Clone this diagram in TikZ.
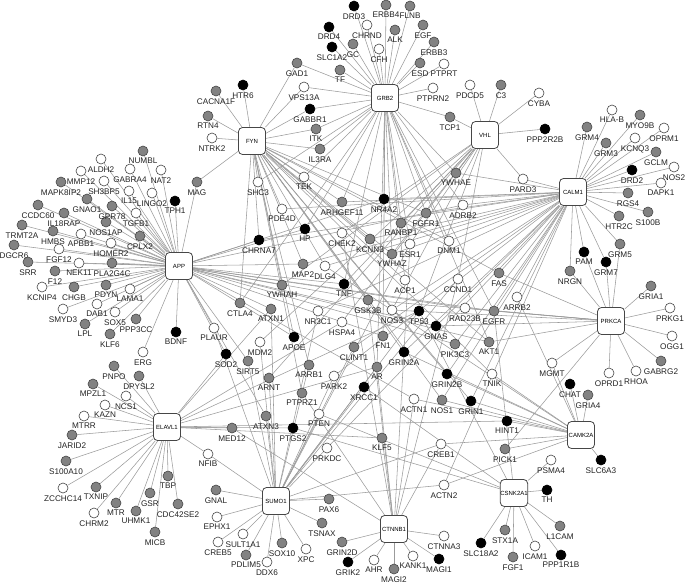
\documentclass[tikz,border=0pt]{standalone}
\usepackage{fontspec}
\setmainfont{Liberation Sans}
\definecolor{rim}{RGB}{70,70,70}
\definecolor{midgray}{RGB}{130,130,130}
\definecolor{edgegray}{RGB}{155,155,155}
\definecolor{txt}{RGB}{35,35,35}
\usetikzlibrary{backgrounds}
\tikzset{
  gene/.style={circle, draw=rim, line width=0.6pt, minimum size=10pt, inner sep=0pt},
  gn/.style={gene, fill=midgray},
  bn/.style={gene, fill=black, draw=black},
  wn/.style={gene, fill=white},
  hub/.style={draw=rim, fill=white, rounded corners=4pt, minimum size=27pt,
              inner sep=0pt, line width=0.8pt, font=\fontsize{6}{7}\selectfont},
  link/.style={draw=edgegray, line width=0.55pt},
  every label/.style={font=\fontsize{8.2}{9}\selectfont, text=txt, inner sep=0pt}
}

\begin{document}
\begin{tikzpicture}[x=1pt, y=-1pt, label distance=1.8pt]
  \useasboundingbox (0,0) rectangle (685,583);
  % Hubs
  \node[hub] (APP) at (179,266) {APP};
  \node[hub] (FYN) at (252,141) {FYN};
  \node[hub] (GRB2) at (385,98) {GRB2};
  \node[hub] (VHL) at (485,135) {VHL};
  \node[hub] (CALM1) at (573,192) {CALM1};
  \node[hub] (PRKCA) at (611,321) {PRKCA};
  \node[hub] (CAMK2A) at (581,435) {CAMK2A};
  \node[hub] (CSNK2A1) at (514,493) {CSNK2A1};
  \node[hub] (CTNNB1) at (394,529) {CTNNB1};
  \node[hub] (SUMO1) at (276,501) {SUMO1};
  \node[hub] (ELAVL1) at (167,427) {ELAVL1};

  % Groupe APP
  \node[gn, label=below:CCDC60] (CCDC60) at (38,205) {};
  \node[gn, label=below:TRMT2A] (TRMT2A) at (22,225) {};
  \node[gn, label=below:HMBS] (HMBS) at (53,231) {};
  \node[gn, label=below:DGCR6] (DGCR6) at (14,245) {};
  \node[gn, label=below:IL18RAP] (IL18RAP) at (64,213) {};
  \node[wn, label=below:FGF12] (FGF12) at (59,249) {};
  \node[gn, label=below:SRR] (SRR) at (28,262) {};
  \node[wn, label=below:NEK11] (NEK11) at (79,263) {};
  \node[gn, label=below:PLA2G4C] (PLA2G4C) at (112,263) {};
  \node[gn, label=below:F12] (F12) at (55,271) {};
  \node[wn, label=below:KCNIP4] (KCNIP4) at (42,287) {};
  \node[gn, label=below:CHGB] (CHGB) at (74,287) {};
  \node[gn, label=below:PDYN] (PDYN) at (106,285) {};
  \node[wn, label=below:LAMA1] (LAMA1) at (130,289) {};
  \node[wn, label=below:SMYD3] (SMYD3) at (63,309) {};
  \node[wn, label=below:DAB1] (DAB1) at (97,304) {};
  \node[wn, label=below:SOX5] (SOX5) at (115,312) {};
  \node[gn, label=below:PPP3CC] (PPP3CC) at (136,319) {};
  \node[gn, label=below:LPL] (LPL) at (85,324) {};
  \node[gn, label=below:KLF6] (KLF6) at (110,334) {};
  \node[bn, label=below:BDNF] (BDNF) at (176,332) {};
  \node[wn, label=below:ERG] (ERG) at (143,352) {};
  \node[wn, label=below:APBB1] (APBB1) at (81,234) {};
  \node[wn, label=below:HOMER2] (HOMER2) at (111,243) {};
  \node[gn, label=below:NOS1AP] (NOS1AP) at (106,222) {};
  \node[gn, label=below:CPLX2] (CPLX2) at (140,236) {};
  \node[gn, label=below:GNAO1] (GNAO1) at (87,199) {};
  \node[gn, label=below:GPR78] (GPR78) at (112,206) {};
  \node[wn, label=below:TGFB1] (TGFB1) at (136,213) {};
  \node[wn, label=below:IL15] (IL15) at (129,191) {};
  \node[wn, label=below:LINGO2] (LINGO2) at (152,193) {};
  \node[bn, label=below:TPH1] (TPH1) at (175,201) {};
  \node[gn, label=below:MAPK8IP2] (MAPK8IP2) at (61,182) {};
  \node[wn, label=below:MMP12] (MMP12) at (81,171) {};
  \node[wn, label=below:SH3BP5] (SH3BP5) at (104,181) {};
  \node[wn, label=below:ALDH2] (ALDH2) at (101,159) {};
  \node[wn, label=below:GABRA4] (GABRA4) at (130,169) {};
  \node[wn, label=below:NAT2] (NAT2) at (161,170) {};
  \node[gn, label=below:NUMBL] (NUMBL) at (143,151) {};
  \node[gn, label=below:MAG] (MAG) at (197,182) {};
  \node[wn, label=below:PLAUR] (PLAUR) at (214,328) {};

  % Groupe FYN
  \node[gn, label=below:CACNA1F] (CACNA1F) at (216,91) {};
  \node[gn, label=below:RTN4] (RTN4) at (208,116) {};
  \node[wn, label=below:NTRK2] (NTRK2) at (212,138) {};
  \node[bn, label=below:HTR6] (HTR6) at (243,85) {};
  \node[gn, label=below:GAD1] (GAD1) at (297,63) {};
  \node[wn, label=below:VPS13A] (VPS13A) at (304,87) {};
  \node[bn, label=below:GABBR1] (GABBR1) at (310,109) {};
  \node[gn, label=below:ITK] (ITK) at (316,129) {};
  \node[gn, label=below:IL3RA] (IL3RA) at (320,149) {};
  \node[wn, label=below:SHC3] (SHC3) at (258,182) {};
  \node[wn, label=below:TEK] (TEK) at (304,177) {};

  % Groupe GRB2
  \node[bn, label=below:DRD3] (DRD3) at (354,6) {};
  \node[gn, label=below:ERBB4] (ERBB4) at (386,5) {};
  \node[gn, label=below:FLNB] (FLNB) at (410,6) {};
  \node[bn, label=below:DRD4] (DRD4) at (329,27) {};
  \node[wn, label=below:CHRND] (CHRND) at (367,25) {};
  \node[gn, label=below:ALK] (ALK) at (395,30) {};
  \node[gn, label=below:EGF] (EGF) at (423,25) {};
  \node[bn, label=below:SLC1A2] (SLC1A2) at (332,47) {};
  \node[gn, label=below:GC] (GC) at (353,44) {};
  \node[wn, label=below:CFH] (CFH) at (379,49) {};
  \node[gn, label=below:ERBB3] (ERBB3) at (434,42) {};
  \node[gn, label=below:TF] (TF) at (340,70) {};
  \node[gn, label=below:ESD] (ESD) at (420,63) {};
  \node[wn, label=below:PTPRT] (PTPRT) at (444,64) {};
  \node[wn, label=below:PTPRN2] (PTPRN2) at (433,88) {};
  \node[gn, label=below:TCP1] (TCP1) at (450,117) {};

  % Groupe VHL
  \node[wn, label=below:PDCD5] (PDCD5) at (470,85) {};
  \node[gn, label=below:C3] (C3) at (501,85) {};
  \node[wn, label=below:CYBA] (CYBA) at (539,93) {};
  \node[bn, label=below:PPP2R2B] (PPP2R2B) at (545,129) {};
  \node[wn, label=below:PARD3] (PARD3) at (523,179) {};
  \node[gn, label=below:YWHAE] (YWHAE) at (456,173) {};

  % Groupe CALM1
  \node[wn, label=below:HLA-B] (HLAB) at (612,110) {};
  \node[gn, label=below:MYO9B] (MYO9B) at (640,115) {};
  \node[gn, label=below:GRM4] (GRM4) at (587,127) {};
  \node[wn, label=below:OPRM1] (OPRM1) at (664,128) {};
  \node[wn, label=below:KCNQ3] (KCNQ3) at (635,138) {};
  \node[gn, label=below:GRM3] (GRM3) at (606,143) {};
  \node[gn, label=below:GCLM] (GCLM) at (656,152) {};
  \node[bn, label=below:DRD2] (DRD2) at (632,170) {};
  \node[wn, label=below:NOS2] (NOS2) at (674,167) {};
  \node[wn, label=below:DAPK1] (DAPK1) at (661,183) {};
  \node[gn, label=below:RGS4] (RGS4) at (628,193) {};
  \node[gn, label=below:HTR2C] (HTR2C) at (619,216) {};
  \node[gn, label=below:S100B] (S100B) at (648,212) {};
  \node[gn, label=below:GRM5] (GRM5) at (620,244) {};
  \node[bn, label=below:PAM] (PAM) at (584,252) {};
  \node[bn, label=below:GRM7] (GRM7) at (606,262) {};
  \node[gn, label=below:NRGN] (NRGN) at (570,271) {};
  \node[wn, label=below:ADRB2] (ADRB2) at (463,205) {};

  % Groupe PRKCA
  \node[gn, label=below:GRIA1] (GRIA1) at (651,286) {};
  \node[wn, label=below:PRKG1] (PRKG1) at (670,308) {};
  \node[wn, label=below:OGG1] (OGG1) at (672,336) {};
  \node[gn, label=below:GABRG2] (GABRG2) at (661,361) {};
  \node[wn, label=below:RHOA] (RHOA) at (636,371) {};
  \node[wn, label=below:OPRD1] (OPRD1) at (609,373) {};
  \node[wn, label=below:MGMT] (MGMT) at (552,363) {};

  % Groupe CAMK2A
  \node[bn, label=below:CHAT] (CHAT) at (570,384) {};
  \node[gn, label=below:GRIA4] (GRIA4) at (588,395) {};
  \node[bn, label=below:SLC6A3] (SLC6A3) at (601,460) {};

  % Groupe CSNK2A1
  \node[wn, label=below:PSMA4] (PSMA4) at (551,460) {};
  \node[bn, label=below:TH] (TH) at (547,490) {};
  \node[gn, label=below:L1CAM] (L1CAM) at (560,526) {};
  \node[gn, label=below:STX1A] (STX1A) at (505,530) {};
  \node[bn, label=below:SLC18A2] (SLC18A2) at (481,543) {};
  \node[wn, label=below:ICAM1] (ICAM1) at (535,546) {};
  \node[bn, label=below:PPP1R1B] (PPP1R1B) at (561,555) {};
  \node[gn, label=below:FGF1] (FGF1) at (513,557) {};

  % Groupe CTNNB1
  \node[gn, label=below:GRIN2D] (GRIN2D) at (342,542) {};
  \node[bn, label=below:GRIK2] (GRIK2) at (348,562) {};
  \node[wn, label=below:AHR] (AHR) at (374,560) {};
  \node[gn, label=below:MAGI2] (MAGI2) at (394,569) {};
  \node[wn, label=below:KANK1] (KANK1) at (413,556) {};
  \node[bn, label=below:MAGI1] (MAGI1) at (439,559) {};
  \node[wn, label=below:CTNNA3] (CTNNA3) at (444,536) {};

  % Groupe SUMO1
  \node[gn, label=below:PAX6] (PAX6) at (329,499) {};
  \node[gn, label=below:TSNAX] (TSNAX) at (322,523) {};
  \node[wn, label=below:SULT1A1] (SULT1A1) at (243,534) {};
  \node[gn, label=below:SOX10] (SOX10) at (282,543) {};
  \node[wn, label=below:XPC] (XPC) at (306,549) {};
  \node[gn, label=below:PDLIM5] (PDLIM5) at (246,555) {};
  \node[wn, label=below:DDX6] (DDX6) at (267,562) {};
  \node[gn, label=below:GNAL] (GNAL) at (216,490) {};
  \node[wn, label=below:EPHX1] (EPHX1) at (217,517) {};
  \node[wn, label=below:CREB5] (CREB5) at (218,542) {};
  \node[wn, label=below:NFIB] (NFIB) at (208,454) {};

  % Groupe ELAVL1
  \node[gn, label=below:MPZL1] (MPZL1) at (93,384) {};
  \node[gn, label=below:DPYSL2] (DPYSL2) at (139,376) {};
  \node[gn, label=below:PNPO] (PNPO) at (114,366) {};
  \node[wn, label=below:NCS1] (NCS1) at (126,396) {};
  \node[wn, label=below:KAZN] (KAZN) at (105,405) {};
  \node[wn, label=below:MTRR] (MTRR) at (84,416) {};
  \node[gn, label=below:JARID2] (JARID2) at (72,435) {};
  \node[gn, label=below:S100A10] (S100A10) at (66,461) {};
  \node[wn, label=below:ZCCHC14] (ZCCHC14) at (63,488) {};
  \node[gn, label=below:TXNIP] (TXNIP) at (96,487) {};
  \node[wn, label=below:CHRM2] (CHRM2) at (94,513) {};
  \node[gn, label=below:MTR] (MTR) at (116,503) {};
  \node[gn, label=below:UHMK1] (UHMK1) at (136,511) {};
  \node[gn, label=below:GSR] (GSR) at (150,493) {};
  \node[gn, label=below:TBP] (TBP) at (168,476) {};
  \node[gn, label=below:CDC42SE2] (CDC42SE2) at (178,504) {};
  \node[gn, label=below:MICB] (MICB) at (155,532) {};

  % Centre
  \node[wn, label=below:PDE4D] (PDE4D) at (282,209) {};
  \node[gn, label=below:ARHGEF11] (ARHGEF11) at (342,202) {};
  \node[bn, label=below:NR4A2] (NR4A2) at (384,199) {};
  \node[gn, label=below:FGFR1] (FGFR1) at (426,213) {};
  \node[gn, label=below:RANBP1] (RANBP1) at (401,223) {};
  \node[bn, label=below:HP] (HP) at (305,229) {};
  \node[wn, label=below:CHEK2] (CHEK2) at (342,233) {};
  \node[bn, label=below:CHRNA7] (CHRNA7) at (259,240) {};
  \node[gn, label=below:KCNN3] (KCNN3) at (370,239) {};
  \node[wn, label=below:ESR1] (ESR1) at (410,244) {};
  \node[wn, label=below:DNM1] (DNM1) at (449,241) {};
  \node[gn, label=below:YWHAZ] (YWHAZ) at (392,254) {};
  \node[gn, label=below:MAP2] (MAP2) at (303,264) {};
  \node[wn, label=below:DLG4] (DLG4) at (325,266) {};
  \node[wn, label=below:ACP1] (ACP1) at (405,280) {};
  \node[wn, label=below:CCND1] (CCND1) at (458,279) {};
  \node[bn, label=below:TNF] (TNF) at (344,284) {};
  \node[gn, label=below:YWHAH] (YWHAH) at (282,285) {};
  \node[gn, label=below:GSK3B] (GSK3B) at (368,300) {};
  \node[gn, label=below:CTLA4] (CTLA4) at (240,303) {};
  \node[gn, label=below:ATXN1] (ATXN1) at (271,309) {};
  \node[wn, label=below:NR3C1] (NR3C1) at (318,311) {};
  \node[wn, label=below:NOS3] (NOS3) at (392,310) {};
  \node[bn, label=below:TP53] (TP53) at (419,311) {};
  \node[wn, label=below:HSPA4] (HSPA4) at (342,322) {};
  \node[bn, label=below:GNAS] (GNAS) at (436,326) {};
  \node[gn, label=below:FN1] (FN1) at (383,336) {};
  \node[bn, label=below:APOE] (APOE) at (294,337) {};
  \node[wn, label=below:MDM2] (MDM2) at (260,342) {};
  \node[gn, label=below:CLINT1] (CLINT1) at (354,347) {};
  \node[bn, label=below:SOD2] (SOD2) at (226,354) {};
  \node[gn, label=below:SIRT5] (SIRT5) at (248,361) {};
  \node[bn, label=below:GRIN2A] (GRIN2A) at (404,352) {};
  \node[gn, label=below:AR] (AR) at (377,367) {};
  \node[gn, label=below:ARRB1] (ARRB1) at (309,365) {};
  \node[wn, label=below:PARK2] (PARK2) at (334,376) {};
  \node[bn, label=below:GRIN2B] (GRIN2B) at (447,374) {};
  \node[gn, label=below:ARNT] (ARNT) at (269,378) {};
  \node[bn, label=below:XRCC1] (XRCC1) at (364,387) {};
  \node[gn, label=below:PTPRZ1] (PTPRZ1) at (302,393) {};
  \node[gn, label=below:ATXN3] (ATXN3) at (266,416) {};
  \node[wn, label=below:PTEN] (PTEN) at (319,414) {};
  \node[bn, label=below:PTGS2] (PTGS2) at (293,428) {};
  \node[gn, label=below:MED12] (MED12) at (232,428) {};
  \node[gn, label=below:KLF5] (KLF5) at (382,438) {};
  \node[wn, label=below:PRKDC] (PRKDC) at (327,448) {};
  \node[wn, label=below:ACTN1] (ACTN1) at (414,399) {};
  \node[gn, label=below:NOS1] (NOS1) at (442,400) {};
  \node[bn, label=below:GRIN1] (GRIN1) at (471,401) {};
  \node[wn, label=below:CREB1] (CREB1) at (441,444) {};
  \node[wn, label=below:ACTN2] (ACTN2) at (444,485) {};
  \node[bn, label=below:HINT1] (HINT1) at (507,421) {};
  \node[gn, label=below:PICK1] (PICK1) at (505,449) {};
  \node[wn, label=below:TNIK] (TNIK) at (492,374) {};
  \node[gn, label=below:PIK3C3] (PIK3C3) at (455,344) {};
  \node[gn, label=below:AKT1] (AKT1) at (489,342) {};
  \node[wn, label=below:RAD23B] (RAD23B) at (465,308) {};
  \node[gn, label=below:EGFR] (EGFR) at (494,311) {};
  \node[gn, label=below:FAS] (FAS) at (499,273) {};
  \node[wn, label=below:ARRB2] (ARRB2) at (517,297) {};

  % Liens
  \begin{pgfonlayer}{background}
    \foreach \g in {CCDC60,TRMT2A,HMBS,DGCR6,IL18RAP,FGF12,SRR,NEK11,PLA2G4C,F12,
      KCNIP4,CHGB,PDYN,LAMA1,SMYD3,DAB1,SOX5,PPP3CC,LPL,KLF6,BDNF,ERG,APBB1,
      HOMER2,NOS1AP,CPLX2,GNAO1,GPR78,TGFB1,IL15,LINGO2,TPH1,MAPK8IP2,MMP12,
      SH3BP5,ALDH2,GABRA4,NAT2,NUMBL,MAG,PLAUR,HP,CHRNA7,NR4A2,MAP2,TNF,YWHAH,
      GSK3B,ATXN1,GNAS,FN1,APOE,SOD2,SIRT5,ATXN3,ACTN1,PIK3C3,AKT1,RAD23B,
      EGFR,ADRB2}
      \draw[link] (APP) -- (\g);
    \foreach \g in {CACNA1F,RTN4,NTRK2,HTR6,GAD1,VPS13A,GABBR1,ITK,IL3RA,SHC3,
      TEK,MAG,PDE4D,ARHGEF11,FGFR1,CHRNA7,KCNN3,DNM1,YWHAZ,MAP2,DLG4,ACP1,
      YWHAH,GSK3B,CTLA4,APOE,GRIN2A,ARRB1,GRIN2B,PTPRZ1,NOS1,GRIN1,TNIK,AKT1,FAS}
      \draw[link] (FYN) -- (\g);
    \foreach \g in {DRD3,ERBB4,FLNB,DRD4,CHRND,ALK,EGF,SLC1A2,GC,CFH,ERBB3,TF,
      ESD,PTPRT,PTPRN2,TCP1,GAD1,VPS13A,GABBR1,ITK,IL3RA,SHC3,TEK,YWHAE,
      ARHGEF11,NR4A2,FGFR1,RANBP1,HP,ESR1,DNM1,YWHAZ,ACP1,TNF,CTLA4,FN1,AR,
      AKT1,EGFR,ADRB2}
      \draw[link] (GRB2) -- (\g);
    \foreach \g in {PDCD5,C3,CYBA,PPP2R2B,TCP1,PARD3,YWHAE,RANBP1,CHEK2,ESR1,
      YWHAZ,CCND1,TNF,YWHAH,NOS3,TP53,HSPA4,MDM2,ARNT}
      \draw[link] (VHL) -- (\g);
    \foreach \g in {HLAB,MYO9B,GRM4,OPRM1,KCNQ3,GRM3,GCLM,DRD2,NOS2,DAPK1,RGS4,
      HTR2C,S100B,GRM5,PAM,GRM7,NRGN,ADRB2,YWHAE,PARD3,PDE4D,ARHGEF11,NR4A2,
      FGFR1,CHRNA7,KCNN3,DNM1,YWHAZ,MAP2,DLG4,NR3C1,NOS3,GNAS,CLINT1,GRIN2A,
      PARK2,GRIN2B,PRKDC,ACTN2,NOS1,GRIN1,PIK3C3,EGFR,FAS,ARRB2}
      \draw[link] (CALM1) -- (\g);
    \foreach \g in {GRIA1,PRKG1,OGG1,GABRG2,RHOA,OPRD1,MGMT,GRM5,PAM,GRM7,NRGN,
      GSK3B,NOS3,GNAS,AKT1,RAD23B,EGFR,FAS,PICK1}
      \draw[link] (PRKCA) -- (\g);
    \foreach \g in {CHAT,GRIA4,SLC6A3,DLG4,GRIN2A,GRIN2B,ACTN1,NOS1,GRIN1,CREB1,
      ACTN2,HINT1,PICK1,TNIK,ARRB2,MGMT}
      \draw[link] (CAMK2A) -- (\g);
    \foreach \g in {PSMA4,TH,L1CAM,STX1A,SLC18A2,ICAM1,PPP1R1B,FGF1,TP53,XRCC1,
      PTEN,PTGS2,EGFR}
      \draw[link] (CSNK2A1) -- (\g);
    \foreach \g in {GRIN2D,GRIK2,AHR,MAGI2,KANK1,MAGI1,CTNNA3,CHEK2,ESR1,CCND1,
      GSK3B,AR,PTPRZ1,MED12,KLF5,ACTN1,CREB1}
      \draw[link] (CTNNB1) -- (\g);
    \foreach \g in {PAX6,TSNAX,SULT1A1,SOX10,XPC,PDLIM5,DDX6,GNAL,EPHX1,CREB5,
      NFIB,ESR1,CCND1,ATXN1,NR3C1,TP53,MDM2,CLINT1,SIRT5,AR,ARRB1,PARK2,ARNT,
      XRCC1,ATXN3,PTEN,PRKDC,CREB1,ACTN2,PLAUR}
      \draw[link] (SUMO1) -- (\g);
    \foreach \g in {MPZL1,DPYSL2,PNPO,NCS1,KAZN,MTRR,JARID2,S100A10,ZCCHC14,
      TXNIP,CHRM2,MTR,UHMK1,GSR,TBP,CDC42SE2,MICB,NFIB,ATXN1,TP53,HSPA4,SOD2,
      AR,PTGS2,MED12,KLF5,HINT1}
      \draw[link] (ELAVL1) -- (\g);
  \end{pgfonlayer}
\end{tikzpicture}
\end{document}
